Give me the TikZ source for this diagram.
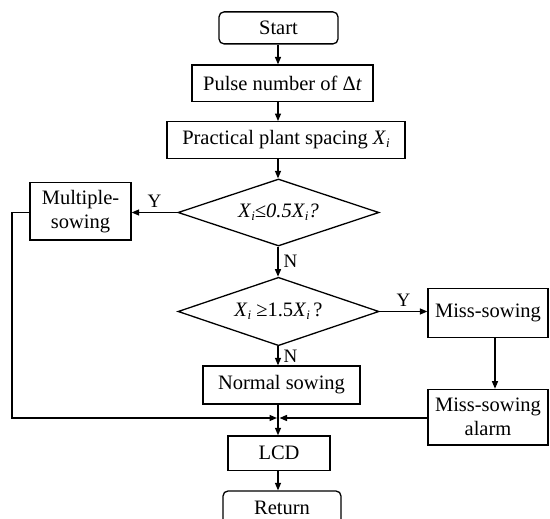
\documentclass[tikz,border=0pt]{standalone}
\usepackage{fontspec}
\setmainfont{Liberation Serif}
\usetikzlibrary{arrows.meta,shapes.geometric}
\newcommand{\myXi}{\textit{X}\raisebox{-0.3ex}{\fontsize{13}{13}\selectfont\textit{i}}}
\begin{document}
\begin{tikzpicture}[x=1pt,y=-1pt,
  lw/.style={line width=1.3pt},
  boxnode/.style={draw,lw,inner sep=0pt,align=center,font=\fontsize{20.5}{24}\selectfont},
  termnode/.style={boxnode,rounded corners=5pt},
  decnode/.style={draw,lw,diamond,aspect=2.9,inner sep=0pt,font=\fontsize{20.5}{24}\selectfont},
  arr/.style={lw,-{Triangle[length=7.5pt,width=6pt]}},
  lbl/.style={font=\fontsize{19}{20}\selectfont,inner sep=0pt}]
\clip (0,0) rectangle (550,519);
\fill[white] (0,0) rectangle (550,519);
\coordinate (ax) at (278,0);
\coordinate (mx) at (495,0);
\coordinate (lx) at (12,0);
\coordinate (my) at (0,418);

\node[termnode,minimum width=119pt,minimum height=32pt] (start) at (278.5,27.9) {Start};
\node[boxnode,minimum width=181pt,minimum height=36.7pt] (pulse) at (282.5,83.4) {Pulse number of Δ\textit{t}};
\node[boxnode,minimum width=238pt,minimum height=36.6pt] (prac) at (286,140) {Practical plant spacing \myXi};
\node[decnode,minimum width=201pt,minimum height=67pt] (d1) at (278.5,212.5) {\myXi\textit{≤0.5}\myXi\textit{?}};
\node[boxnode,minimum width=101pt,minimum height=57.3pt] (multi) at (80.5,211.4) {Multiple-\\sowing};
\node[decnode,minimum width=201pt,minimum height=68.4pt] (d2) at (278.5,311.5) {\myXi\ ≥1.5\myXi\,?};
\node[boxnode,minimum width=120pt,minimum height=49pt] (miss) at (488,312.8) {Miss-sowing};
\node[boxnode,minimum width=120pt,minimum height=55.7pt] (alarm) at (488,417.2) {Miss-sowing\\alarm};
\node[boxnode,minimum width=157pt,minimum height=38pt] (normal) at (281.5,385) {Normal sowing};
\node[boxnode,minimum width=102pt,minimum height=34.5pt] (lcd) at (279,453.2) {LCD};
\node[termnode,minimum width=118pt,minimum height=34pt] (ret) at (282,508) {Return};

\draw[arr] (start.south -| ax) -- (pulse.north -| ax);
\draw[arr] (pulse.south -| ax) -- (prac.north -| ax);
\draw[arr] (prac.south -| ax) -- (d1.north -| ax);
\draw[arr] (d1.west) -- (multi.east |- d1.west) node[lbl,midway,above=4pt] (y1) {Y};
\draw[arr] (d1.south -| ax) -- (d2.north -| ax) node[lbl,midway,right=5pt] (n1) {N};
\draw[arr] (d2.east) -- (miss.west |- d2.east) node[lbl,midway,above=4pt] (y2) {Y};
\draw[arr] (d2.south -| ax) -- (normal.north -| ax) node[lbl,midway,right=5pt] (n2) {N};
\draw[arr] (miss.south -| mx) -- (alarm.north -| mx);
\draw[arr] (normal.south -| ax) -- (lcd.north -| ax);
\draw[arr] (multi.west |- d1.west) -- (lx |- d1.west) -- (lx |- my) -- ([xshift=-1pt]ax |- my);
\draw[arr] (alarm.west |- my) -- ([xshift=1.5pt]ax |- my);
\draw[arr] (lcd.south -| ax) -- (ret.north -| ax);
\end{tikzpicture}
\end{document}
